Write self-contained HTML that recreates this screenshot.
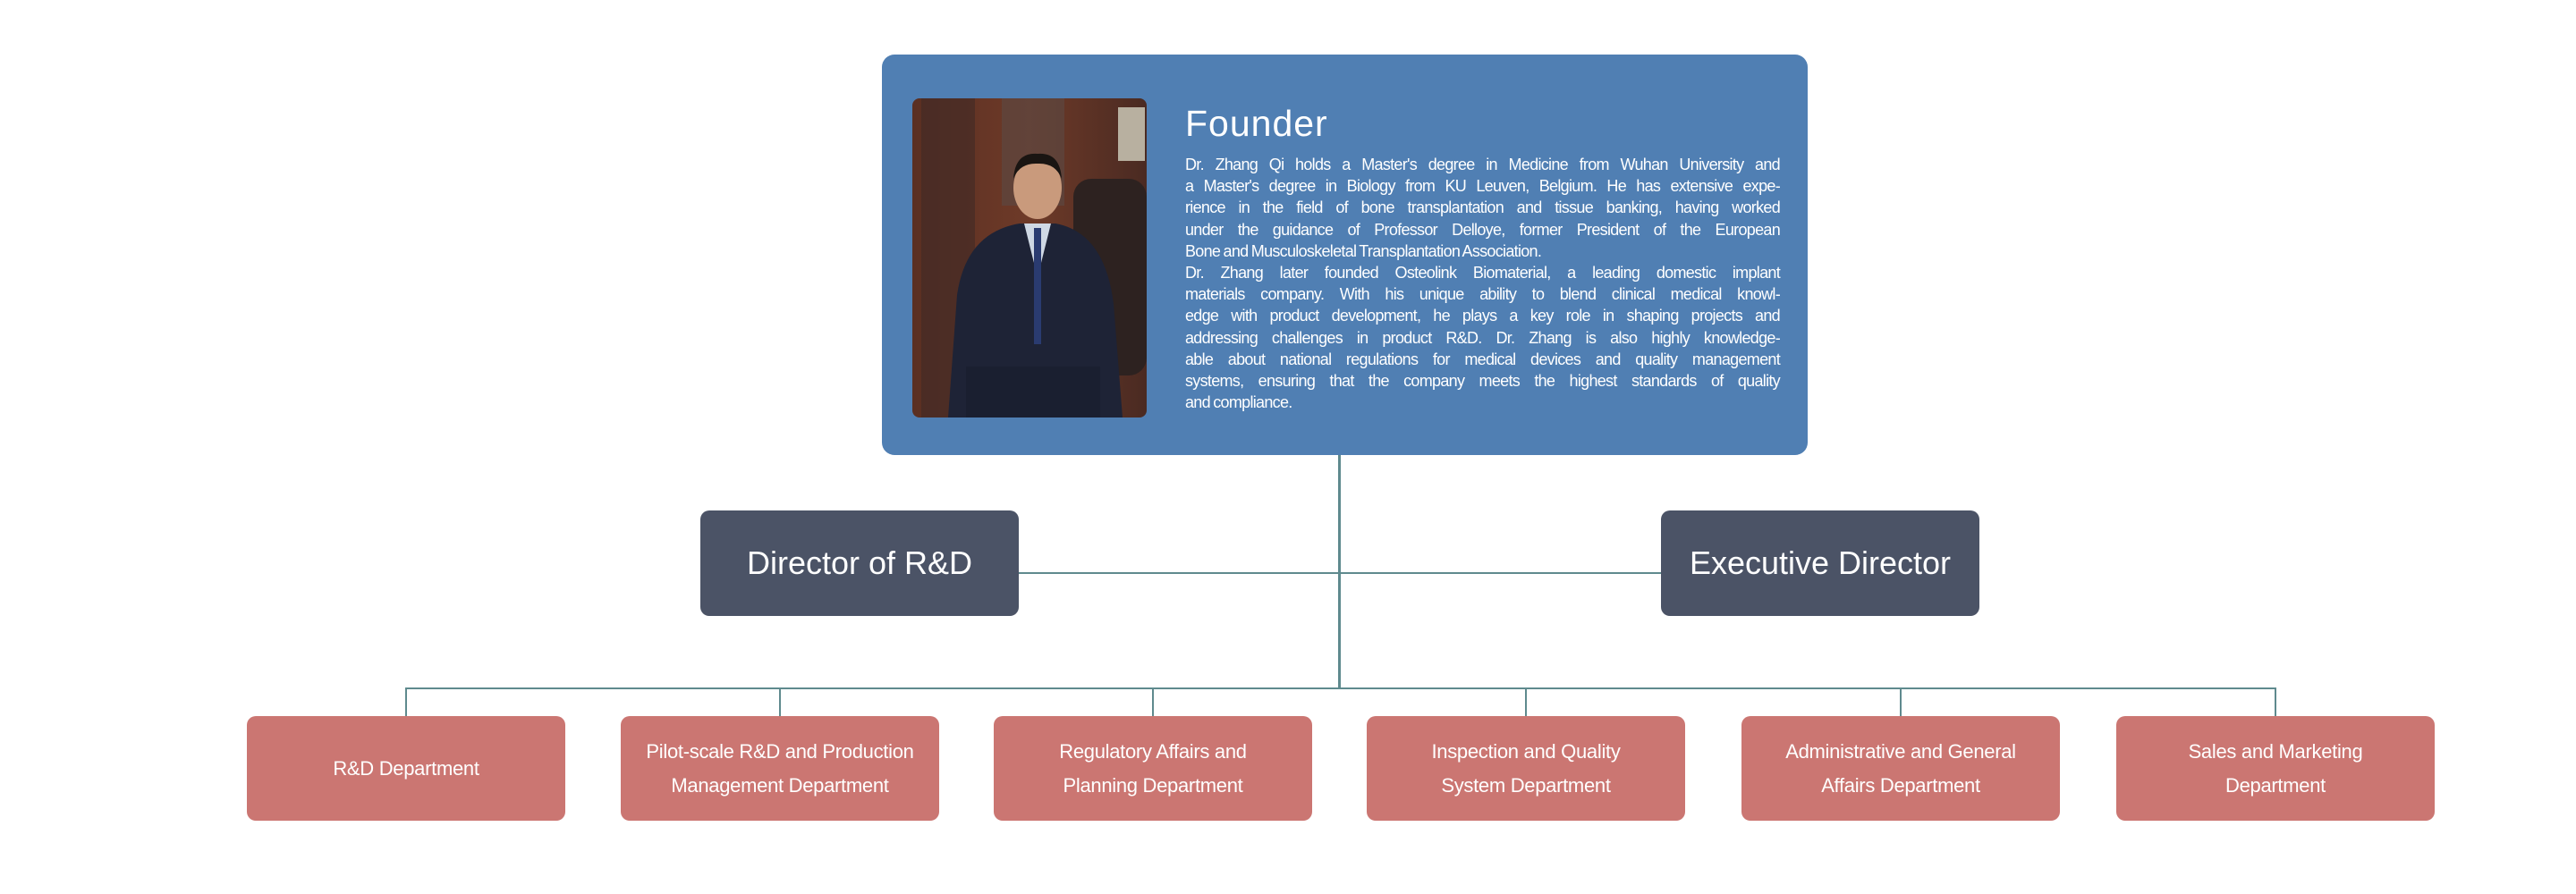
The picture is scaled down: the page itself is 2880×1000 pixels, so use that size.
<!DOCTYPE html>
<html><head><meta charset="utf-8">
<style>
html,body{margin:0;padding:0;background:#fff;}
body{width:2880px;height:1000px;position:relative;overflow:hidden;font-family:"Liberation Sans",sans-serif;}
.abs{position:absolute;}
.line{position:absolute;background:#5f8a8e;}
.founder{left:986px;top:61px;width:1035px;height:448px;background:#507fb3;border-radius:14px;}
.photo{left:1020px;top:110px;width:262px;height:357px;border-radius:8px;overflow:hidden;}
.title{left:1325px;top:115px;color:#fff;font-size:41px;letter-spacing:1px;}
.bio{left:1325px;top:172px;width:665px;color:#fff;font-size:18px;line-height:24.2px;letter-spacing:-0.7px;word-spacing:-1px;}
.bio div{text-align:justify;text-align-last:justify;white-space:nowrap;overflow:visible;}
.bio div.l{text-align-last:left;}
.dir{top:571px;width:356px;height:118px;background:#4b5366;border-radius:10px;color:#fff;font-size:36px;display:flex;align-items:center;justify-content:center;}
.dept{top:801px;width:356px;height:117px;background:#cb7672;border-radius:10px;color:#fff;font-size:22px;line-height:38px;display:flex;align-items:center;justify-content:center;text-align:center;letter-spacing:-0.3px;}
</style></head><body>

<div class="line" style="left:1496px;top:509px;width:3px;height:262px;"></div>
<div class="line" style="left:1139px;top:640px;width:718px;height:2px;"></div>
<div class="line" style="left:454px;top:769px;width:2091px;height:2px;"></div>
<div class="line" style="left:453px;top:769px;width:2px;height:32px;"></div>
<div class="line" style="left:871px;top:769px;width:2px;height:32px;"></div>
<div class="line" style="left:1288px;top:769px;width:2px;height:32px;"></div>
<div class="line" style="left:1705px;top:769px;width:2px;height:32px;"></div>
<div class="line" style="left:2124px;top:769px;width:2px;height:32px;"></div>
<div class="line" style="left:2543px;top:769px;width:2px;height:32px;"></div>

<div class="abs founder"></div>
<div class="abs photo">
<svg width="262" height="357" viewBox="0 0 262 357">
<defs><linearGradient id="bg" x1="0" y1="0" x2="1" y2="0"><stop offset="0" stop-color="#5a2f22"/><stop offset="0.5" stop-color="#6e3a28"/><stop offset="1" stop-color="#4a2a22"/></linearGradient></defs>
<rect width="262" height="357" fill="url(#bg)"/>
<rect x="10" y="0" width="60" height="357" fill="#3f2a26" opacity="0.6"/>
<rect x="100" y="0" width="70" height="120" fill="#5a4a44" opacity="0.6"/>
<rect x="230" y="10" width="30" height="60" fill="#b8b0a0"/>
<rect x="180" y="90" width="82" height="220" rx="20" fill="#2d2220"/>
<path d="M40 357 L50 220 Q60 150 120 140 L160 140 Q215 150 225 230 L235 357 Z" fill="#1e2336"/>
<path d="M125 140 L140 200 L155 140 Z" fill="#cfd8e4"/>
<rect x="136" y="145" width="8" height="130" fill="#2a3b70"/>
<ellipse cx="140" cy="100" rx="27" ry="35" fill="#c99a7c"/>
<path d="M113 90 Q115 60 140 62 Q165 60 167 90 Q160 72 140 73 Q120 72 113 90Z" fill="#1a1512"/>
<rect x="60" y="300" width="150" height="57" fill="#1a1f30"/>
</svg>
</div>
<div class="abs title">Founder</div>
<div class="abs bio">
<div>Dr. Zhang Qi holds a Master's degree in Medicine from Wuhan University and</div>
<div>a Master's degree in Biology from KU Leuven, Belgium. He has extensive expe-</div>
<div>rience in the field of bone transplantation and tissue banking, having worked</div>
<div>under the guidance of Professor Delloye, former President of the European</div>
<div class="l">Bone and Musculoskeletal Transplantation Association.</div>
<div>Dr. Zhang later founded Osteolink Biomaterial, a leading domestic implant</div>
<div>materials company. With his unique ability to blend clinical medical knowl-</div>
<div>edge with product development, he plays a key role in shaping projects and</div>
<div>addressing challenges in product R&amp;D. Dr. Zhang is also highly knowledge-</div>
<div>able about national regulations for medical devices and quality management</div>
<div>systems, ensuring that the company meets the highest standards of quality</div>
<div class="l">and compliance.</div>
</div>

<div class="abs dir" style="left:783px;">Director of R&amp;D</div>
<div class="abs dir" style="left:1857px;">Executive Director</div>

<div class="abs dept" style="left:276px;">R&amp;D Department</div>
<div class="abs dept" style="left:694px;">Pilot-scale R&amp;D and Production<br>Management Department</div>
<div class="abs dept" style="left:1111px;">Regulatory Affairs and<br>Planning Department</div>
<div class="abs dept" style="left:1528px;">Inspection and Quality<br>System Department</div>
<div class="abs dept" style="left:1947px;">Administrative and General<br>Affairs Department</div>
<div class="abs dept" style="left:2366px;">Sales and Marketing<br>Department</div>
</body></html>
